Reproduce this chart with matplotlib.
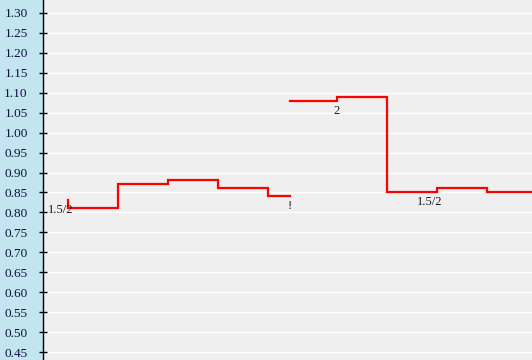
import matplotlib.pyplot as plt
import numpy as np

# y ticks
y_ticks = [0.45, 0.50, 0.55, 0.60, 0.65, 0.70, 0.75, 0.80, 0.85, 0.90,
           0.95, 1.00, 1.05, 1.10, 1.15, 1.20, 1.25, 1.30]

# first step series: step edges and levels
edges_a = [0.0, 1.0, 2.0, 3.0, 4.0, 4.44]
levels_a = [0.81, 0.87, 0.88, 0.86, 0.84]

# second step series
edges_b = [4.44, 5.38, 6.38, 7.38, 8.38, 9.6]
levels_b = [1.08, 1.09, 0.85, 0.86, 0.85]

# point labels (x, y, text)
label_x = [-0.14, 4.44, 5.38, 7.24]
label_y = [0.805, 0.815, 1.055, 0.825]
label_txt = ["1.5/2", "!", "2", "1.5/2"]

fig = plt.figure(figsize=(5.32, 3.6), dpi=100)
fig.patch.set_facecolor('#c2e5f0')
ax = fig.add_axes([43 / 532, 0, 1 - 43 / 532, 1])
ax.set_facecolor('#efefef')

ax.set_xlim(-0.5, 9.28)
ax.set_ylim(0.43, 1.3325)

for t in y_ticks:
    ax.axhline(t, color='white', lw=1, zorder=1)


def draw_steps(edges, levels):
    xs, ys = [], []
    for i, v in enumerate(levels):
        xs += [edges[i], edges[i + 1]]
        ys += [v, v]
    ax.plot(xs, ys, color='#ff0000', lw=1.6, zorder=3, solid_joinstyle='miter')


draw_steps(edges_a, levels_a)
draw_steps(edges_b, levels_b)
# small start tick of the first series
ax.plot([edges_a[0], edges_a[0]], [levels_a[0], levels_a[0] + 0.022],
        color='#ff0000', lw=1.6, zorder=3)

for x, y, s in zip(label_x, label_y, label_txt):
    ax.text(x, y, s, ha='center', va='center', fontsize=9,
            family='Liberation Serif', color='#1a1a1a', zorder=4)

ax.set_yticks(y_ticks)
ax.set_yticklabels(['%.2f' % t for t in y_ticks], family='Liberation Serif',
                   fontsize=9.5, color='#101040')
ax.tick_params(axis='y', direction='inout', length=6, width=1, pad=8,
               color='black')
ax.set_xticks([])
for side in ['top', 'right', 'bottom']:
    ax.spines[side].set_visible(False)
ax.spines['left'].set_color('black')
ax.spines['left'].set_linewidth(1)

fig.savefig('out.png', dpi=100, facecolor=fig.get_facecolor())
